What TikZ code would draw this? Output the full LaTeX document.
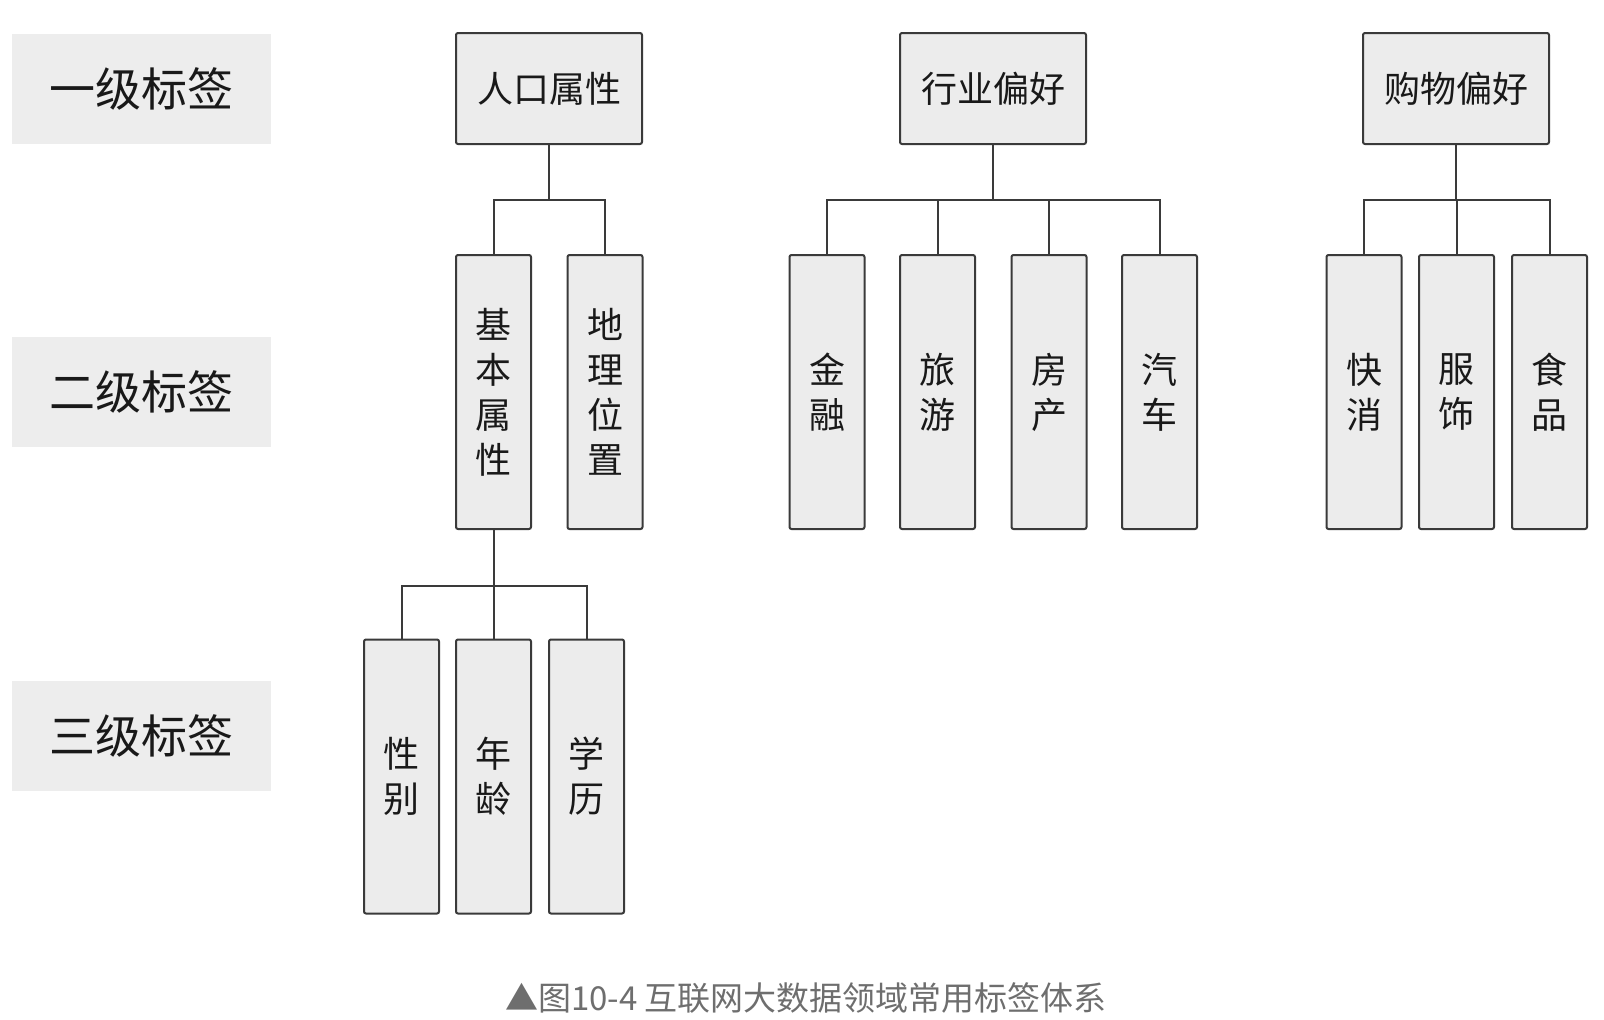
\documentclass[tikz,border=0pt]{standalone}
\usepackage{fontspec}
\setmainfont{Noto Sans CJK SC}
\usepackage{xcolor}
\usepackage{tikz}
\usetikzlibrary{positioning}
\definecolor{boxfill}{HTML}{ECECEC}
\definecolor{boxline}{HTML}{3A3A3A}
\definecolor{tagfill}{HTML}{EDEDED}
\definecolor{captiongray}{HTML}{6E6E6E}

\begin{document}
\begin{tikzpicture}[x=1pt, y=-1pt, text=black!90,
  tag/.style={fill=tagfill, minimum width=259pt, minimum height=110pt,
    font=\fontsize{46}{50}\selectfont},
  topbox/.style={draw=boxline, fill=boxfill, line width=2pt, rounded corners=2pt,
    minimum width=186pt, minimum height=111pt, font=\fontsize{36}{40}\selectfont},
  tallbox/.style={draw=boxline, fill=boxfill, line width=2pt, rounded corners=2pt,
    minimum width=75pt, minimum height=274pt, align=center,
    font=\fontsize{36}{45}\selectfont},
  link/.style={draw=boxline, line width=2pt}]
  \useasboundingbox (0,0) rectangle (1604,1020);

  % level labels on the left
  \node[tag] (lv1) at (141.5,89) {一级标签};
  \node[tag] (lv2) at (141.5,392) {二级标签};
  \node[tag] (lv3) at (141.5,735.5) {三级标签};

  % first level
  \node[topbox] (renkou) at (549,88.5) {人口属性};
  \node[topbox] (hangye) at (993,88.5) {行业偏好};
  \node[topbox] (gouwu) at (1456,88.5) {购物偏好};

  % second level
  \node[tallbox] (jiben) at (493.5,392) {基\\本\\属\\性};
  \node[tallbox] (dili) at (605,392) {地\\理\\位\\置};
  \node[tallbox] (jinrong) at (827,392) {金\\融};
  \node[tallbox] (lvyou) at (937.5,392) {旅\\游};
  \node[tallbox] (fangchan) at (1049,392) {房\\产};
  \node[tallbox] (qiche) at (1159.5,392) {汽\\车};
  \node[tallbox] (kuaixiao) at (1364,392) {快\\消};
  \node[tallbox] (fushi) at (1456.5,392) {服\\饰};
  \node[tallbox] (shipin) at (1549.5,392) {食\\品};

  % third level
  \node[tallbox] (xingbie) at (401.5,776.5) {性\\别};
  \node[tallbox] (nianling) at (493.5,776.5) {年\\龄};
  \node[tallbox] (xueli) at (586.5,776.5) {学\\历};

  % tree links
  \foreach \c in {jiben,dili}
    \draw[link] (renkou.south) -- ++(0,55) -| (\c.north);
  \foreach \c in {jinrong,lvyou,fangchan,qiche}
    \draw[link] (hangye.south) -- ++(0,55) -| (\c.north);
  \foreach \c in {kuaixiao,fushi,shipin}
    \draw[link] (gouwu.south) -- ++(0,55) -| (\c.north);
  \foreach \c in {xingbie,nianling,xueli}
    \draw[link] (jiben.south) -- ++(0,56) -| (\c.north);

  % caption
  \node[text=captiongray, font=\fontsize{33}{36}\selectfont] (caption) at (806,998)
    {▲图10-4 互联网大数据领域常用标签体系};
\end{tikzpicture}
\end{document}
